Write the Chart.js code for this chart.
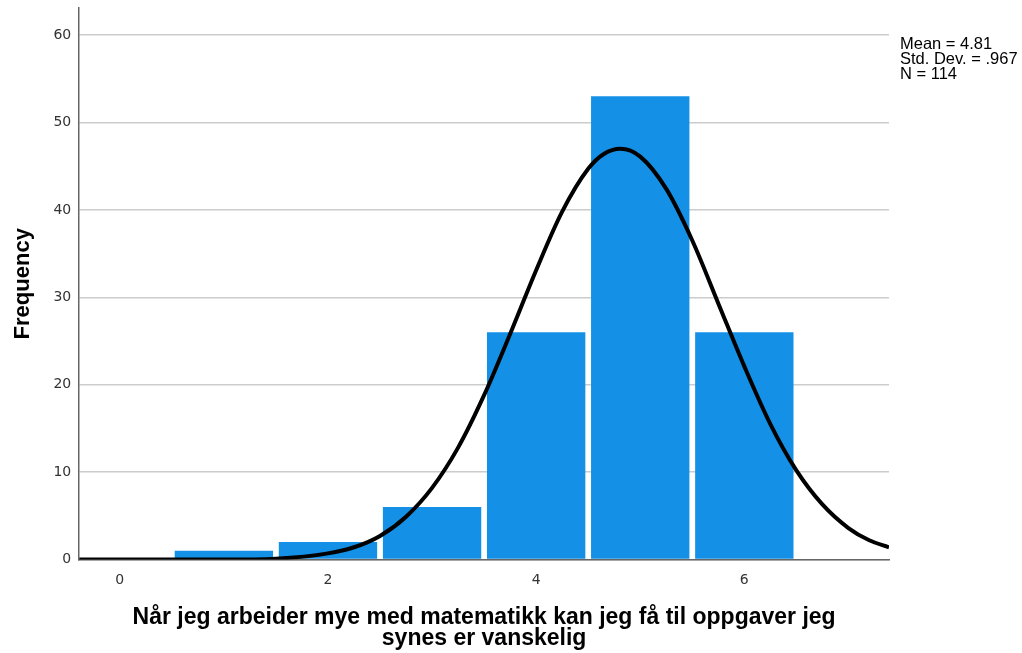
<!DOCTYPE html>
<html>
<head>
<meta charset="utf-8">
<script src="https://cdn.jsdelivr.net/npm/chart.js@4"></script>
<style>
  html, body { margin: 0; padding: 0; background: #fff; }
  #wrap { width: 1022px; height: 653px; }
</style>
</head>
<body>
<div id="wrap"><canvas id="chart"></canvas></div>
<script>
// histogram bins (value -> frequency)
const binValues = [1, 2, 3, 4, 5, 6];
const frequencies = [1, 2, 6, 26, 53, 26];

// normal curve
const curveX = [-0.39, 0, 0.5, 1, 1.5, 2, 2.25, 2.5, 2.75, 3, 3.25, 3.5, 3.75, 4, 4.25, 4.5, 4.65, 4.81, 5, 5.25, 5.5, 5.75, 6, 6.25, 6.5, 6.75, 7, 7.2, 7.39];
const curveY = [0, 0, 0, 0, 0.1, 0.7, 1.4, 2.7, 4.9, 8.2, 12.8, 18.8, 25.8, 33.1, 39.8, 44.7, 46.4, 47.0, 46.1, 42.4, 36.5, 29.3, 22.1, 15.5, 10.2, 6.3, 3.6, 2.2, 1.4];

const xTicks = [0, 2, 4, 6];
const yTicks = [0, 10, 20, 30, 40, 50, 60];
const statsLines = ["Mean = 4.81", "Std. Dev. = .967", "N = 114"];
const xTitle = ["Når jeg arbeider mye med matematikk kan jeg få til oppgaver jeg", "synes er vanskelig"];
const yTitle = "Frequency";

const statsBox = {
  id: "statsBox",
  afterDraw(chart) {
    const ctx = chart.ctx;
    ctx.save();
    ctx.fillStyle = "#000";
    ctx.font = "16.5px 'Liberation Sans', Arial, sans-serif";
    ctx.textBaseline = "middle";
    statsLines.forEach((s, i) => ctx.fillText(s, chart.chartArea.right + 11, 44 + i * 15));
    ctx.restore();
  }
};

new Chart(document.getElementById("chart"), {
  type: "bar",
  data: {
    datasets: [
      {
        type: "line",
        data: curveX.map((x, i) => ({ x, y: curveY[i] })),
        borderColor: "#000",
        borderWidth: 4,
        pointRadius: 0,
        cubicInterpolationMode: "monotone",
        fill: false,
        order: 0
      },
      {
        data: binValues.map((x, i) => ({ x, y: frequencies[i] })),
        backgroundColor: "#1490e6",
        barPercentage: 0.945,
        categoryPercentage: 1,
        order: 1
      }
    ]
  },
  options: {
    animation: false,
    responsive: true,
    maintainAspectRatio: false,
    layout: { padding: { top: 8, right: 133, bottom: 3, left: 10 } },
    scales: {
      x: {
        type: "linear",
        offset: false,
        min: -0.39,
        max: 7.39,
        afterBuildTicks: s => { s.ticks = xTicks.map(v => ({ value: v })); },
        afterFit: s => { s.paddingLeft = 0; s.paddingRight = 0; },
        grid: { display: false, drawTicks: false },
        border: { display: true, color: "#666", width: 1.5 },
        ticks: {
          padding: 12,
          color: "#333",
          font: { family: "'DejaVu Sans', sans-serif", size: 14 }
        },
        title: {
          display: true,
          text: xTitle,
          color: "#000",
          padding: { top: 6, bottom: 0 },
          font: { family: "'Liberation Sans', Arial, sans-serif", size: 23, weight: "bold", lineHeight: 0.95 }
        }
      },
      y: {
        min: 0,
        max: 63.1,
        afterBuildTicks: s => { s.ticks = yTicks.map(v => ({ value: v })); },
        afterFit: s => { s.paddingTop = 0; s.paddingBottom = 0; },
        grid: { color: "#cccccc", lineWidth: 1.5, drawTicks: false },
        border: { display: true, color: "#666", width: 1.5 },
        ticks: {
          padding: 8,
          color: "#333",
          font: { family: "'DejaVu Sans', sans-serif", size: 14 }
        },
        title: {
          display: true,
          text: yTitle,
          color: "#000",
          padding: { top: 0, bottom: 9 },
          font: { family: "'Liberation Sans', Arial, sans-serif", size: 22, weight: "bold" }
        }
      }
    },
    plugins: {
      legend: { display: false },
      tooltip: { enabled: false }
    }
  },
  plugins: [statsBox]
});
</script>
</body>
</html>
